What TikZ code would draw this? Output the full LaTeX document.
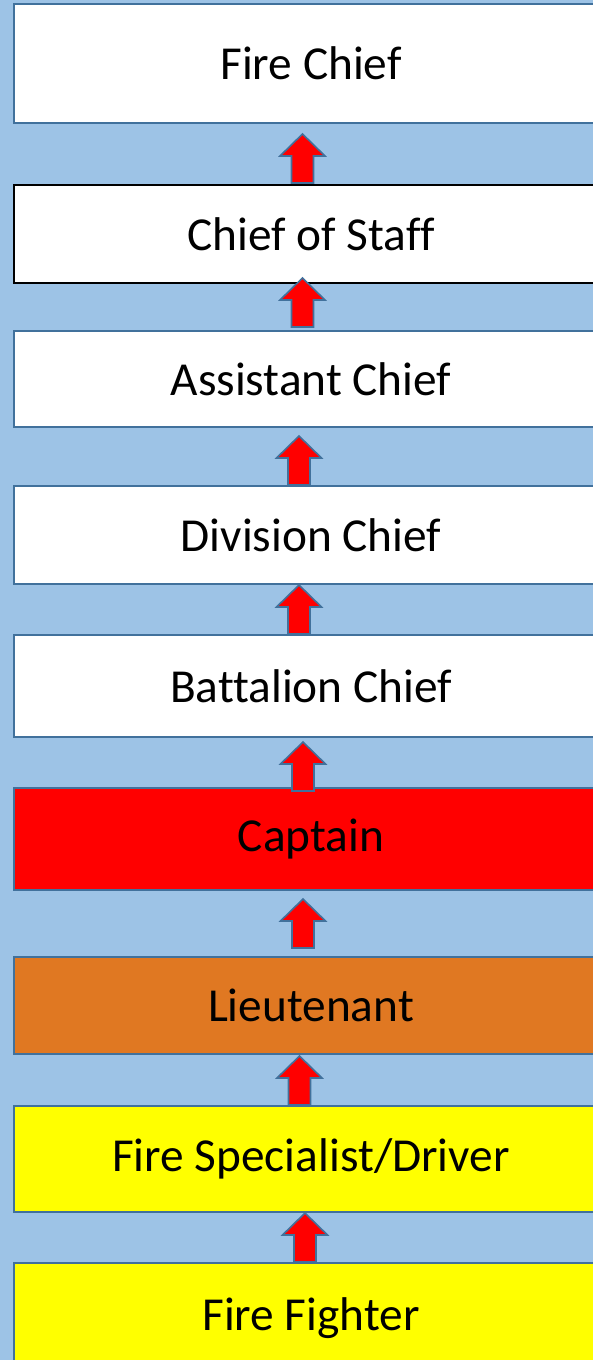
\documentclass[tikz,border=0pt]{standalone}
\usepackage{fontspec}
\setmainfont[Ligatures=NoCommon]{Carlito}
\usepackage{tikz}
\usetikzlibrary{positioning}
\definecolor{skyback}{RGB}{157,195,230}
\definecolor{rankline}{RGB}{65,113,156}
\definecolor{ltorange}{RGB}{224,120,34}
\definecolor{capred}{RGB}{255,0,0}
\definecolor{ffyellow}{RGB}{255,255,0}
\tikzstyle{rank}=[draw=rankline,line width=2.2bp,fill=white,rectangle,minimum width=594bp,inner sep=0pt,outer sep=0pt,font=\fontsize{47.5}{54}\selectfont]
\tikzstyle{rankarrow}=[draw=rankline,line width=1.6bp,fill=capred,line join=miter]

\begin{document}
\begin{tikzpicture}[x=1bp,y=1bp]
  \useasboundingbox[fill=skyback] (0,0) rectangle (593,-1360);
  \clip (0,0) rectangle (593,-1360);
  \node[rank, minimum height=119bp] (fc) at (311,-63.5) {Fire Chief};
  \node[rank, draw=black, minimum height=98bp, below=62bp of fc] (cos) {Chief of Staff};
  \node[rank, minimum height=96bp, below=48bp of cos] (ac) {Assistant Chief};
  \node[rank, minimum height=98bp, below=59bp of ac] (dc) {Division Chief};
  \node[rank, minimum height=102bp, below=51bp of dc] (bc) {Battalion Chief};
  \node[rank, fill=capred, minimum height=102bp, below=51bp of bc] (cap) {Captain};
  \node[rank, fill=ltorange, minimum height=97bp, below=67bp of cap] (lt) {Lieutenant};
  \node[rank, fill=ffyellow, minimum height=106bp, below=52bp of lt] (fsd) {Fire Specialist/Driver};
  \node[rank, fill=ffyellow, minimum height=110bp, below=51bp of fsd] (ff) {Fire Fighter};
  % block arrows, from each rank up to the next one
  \foreach \lo/\dx/\dy in {cos/-8.5/2, ac/-8.5/4, dc/-12/1, bc/-12/1, cap/-8/-3, lt/-8/9, fsd/-11.5/1, ff/-6/1}
    \draw[rankarrow] ([xshift=\dx bp, yshift=\dy bp]\lo.north) -- ++(11,0) -- ++(0,27)
      -- ++(11.5,0) -- ++(-22.5,22) -- ++(-22.5,-22) -- ++(11.5,0) -- ++(0,-27) -- cycle;
\end{tikzpicture}
\end{document}
